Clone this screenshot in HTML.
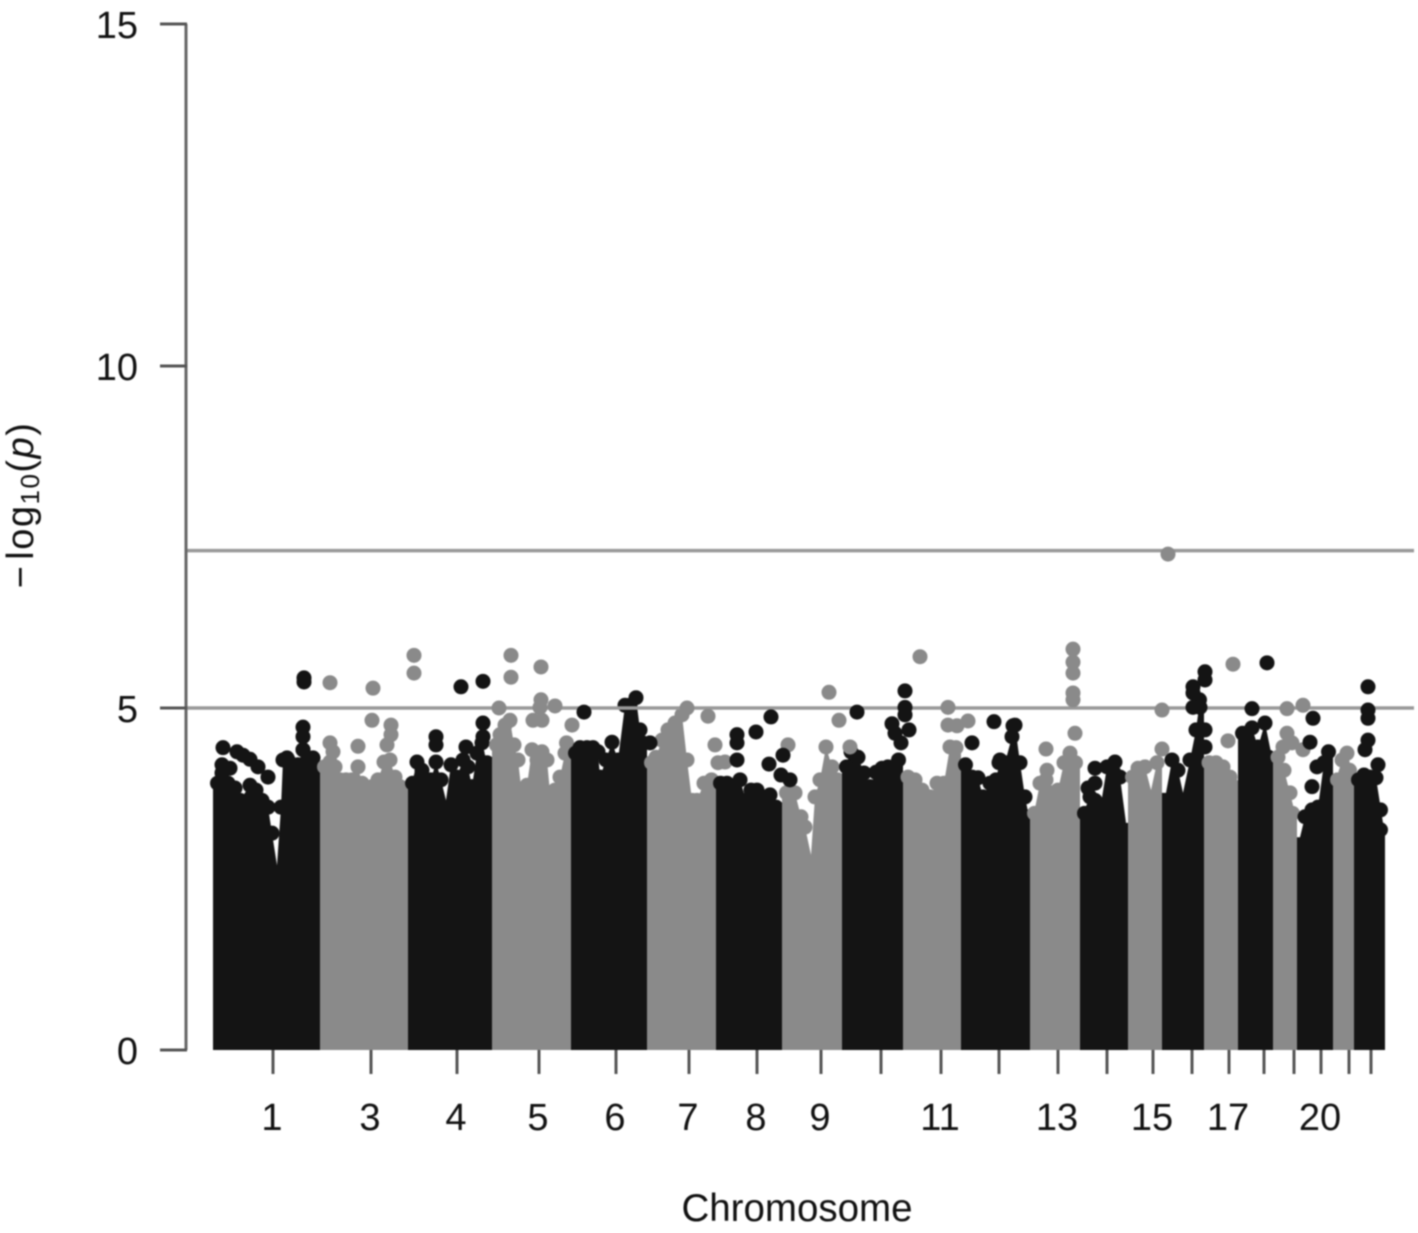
<!DOCTYPE html>
<html lang="en">
<head>
<meta charset="utf-8">
<title>Manhattan plot</title>
<style>
html,body{margin:0;padding:0;background:#fff;}
svg{display:block;filter:blur(0.8px);}
text{font-family:"Liberation Sans",sans-serif;fill:#111;}
</style>
</head>
<body>
<svg id="plot" xmlns="http://www.w3.org/2000/svg" width="1418" height="1233" viewBox="0 0 1418 1233">
  <rect width="1418" height="1233" fill="#fff"/>
  <g id="body-layer"></g>
  <g id="line-layer"></g>
  <g id="point-layer"></g>
  <g id="axis-layer"></g>
  <text x="797" y="1221" font-size="38.5" text-anchor="middle">Chromosome</text>
  <text transform="translate(33,505) rotate(-90)" font-size="38" letter-spacing="1.5" text-anchor="middle">−<tspan dx="5">log</tspan><tspan font-size="26" dy="6">10</tspan><tspan dy="-6">(</tspan><tspan font-style="italic">p</tspan><tspan>)</tspan></text>
</svg>
<script>
// Chromosome layout on a cumulative genome coordinate
const chromosomes = ["1","3","4","5","6","7","8","9","10","11","12","13","14","15","16","17","18","19","20","21","22"];
const chromEnds = [107,195,279,358,434,503,569,629,690,748,817,867,915,949,991,1025,1060,1084,1120,1141,1172];
const tickPositions = [60,158,244,326,403,476,544,608,668,728,786,845,894,940,979,1016,1051,1081,1108,1136,1158];
const tickLabels = ["1","3","4","5","6","7","8","9","","11","","13","","15","","17","","","20","",""];
const yTicks = [0,5,10,15];
const thresholds = [5,7.3];

// Upper envelope of the dense SNP cloud
const skylinePos = [2,9,15,22,27,37,43,49,55,59,64,68,70,75,80,85,90,95,100,105,
110,117,122,127,133,139,145,149,154,159,165,171,177,182,187,193,
199,204,209,214,218,223,228,233,238,244,250,255,259,264,269,274,277,
282,287,292,297,301,305,309,314,319,324,329,334,338,342,347,352,356,
361,367,374,380,385,387,393,399,405,412,417,423,427,432,
437,443,449,455,462,469,474,479,484,491,499,
507,514,520,527,533,538,544,550,557,563,568,
572,577,582,588,592,598,602,607,613,619,625,
632,638,645,651,657,663,669,675,681,687,
695,702,709,717,724,731,737,743,
752,759,765,770,777,783,787,792,799,802,807,812,816,
821,827,833,839,845,851,857,863,
870,877,882,887,894,901,907,913,
919,925,932,938,944,
953,959,965,970,977,983,987,
996,1003,1010,1017,1023,
1029,1039,1045,1052,1059,
1065,1071,1077,1082,
1087,1092,1099,1105,1111,1117,
1123,1129,1134,1139,
1145,1151,1157,1163,1168,1171];
const skylineVal = [3.90,4.05,3.90,3.83,3.65,3.87,3.80,3.65,3.55,3.17,2.70,3.55,4.24,4.24,4.09,4.17,4.39,4.24,4.27,4.09,
4.14,4.21,4.14,3.95,3.95,3.95,4.14,3.90,3.83,3.85,3.95,4.21,4.24,3.99,3.85,3.77,
3.90,4.21,4.09,3.85,3.95,4.21,3.95,3.65,4.17,3.99,4.24,4.14,3.85,4.34,4.49,4.20,4.09,
4.46,4.61,4.75,4.82,4.46,4.24,3.73,3.87,4.39,4.24,4.36,4.24,3.61,3.80,3.99,4.34,4.49,
4.34,4.42,4.42,4.42,4.36,3.99,4.24,4.50,4.24,5.04,5.04,5.15,4.68,4.49,
4.20,4.28,4.53,4.68,4.78,4.90,4.24,3.65,3.65,3.90,3.95,
3.90,3.90,3.85,3.95,3.65,3.80,3.80,3.70,3.73,3.55,3.46,
3.76,3.80,3.76,3.41,3.26,2.85,3.70,3.95,4.43,4.14,3.95,
4.14,4.36,4.28,4.05,3.85,4.06,4.12,4.14,4.14,4.24,
3.99,3.95,3.80,3.70,3.90,3.90,4.43,4.42,
4.17,3.99,3.98,3.70,3.90,3.95,4.24,4.20,4.58,4.75,4.20,3.70,3.41,
3.46,3.90,3.95,3.76,3.80,4.20,4.34,4.20,
3.46,3.70,3.65,3.51,4.14,4.05,3.99,3.32,
3.99,4.12,4.14,3.80,4.20,
3.76,4.24,4.09,3.76,4.24,4.68,5.12,
4.20,4.20,4.14,3.99,3.85,
4.63,4.71,4.43,4.78,4.28,
4.28,4.09,3.76,3.46,
3.11,3.41,3.51,3.55,4.20,4.36,
3.95,4.24,4.34,4.09,
3.95,4.02,3.99,3.98,3.51,3.22];

// Isolated peak SNPs, chromosomes in black
const blackPos = [10,9,17,24,30,37,45,55,91,91,90,90,90,74,248,270,223,223,270,270,253,371,437,558,543,524,524,524,556,570,568,577,644,692,692,692,696,679,682,688,759,781,800,786,882,882,875,902,992,992,980,980,980,987,992,992,1054,1039,1100,1097,1104,1099,1155,1155,1155,1155,1152,1165];
const blackVal = [4.42,4.17,4.12,4.36,4.31,4.25,4.14,3.99,5.44,5.38,4.72,4.58,4.39,4.27,5.31,5.39,4.58,4.46,4.78,4.58,4.43,4.94,4.49,4.87,4.65,4.61,4.49,4.24,4.18,4.31,4.02,3.95,4.94,5.25,5.01,4.90,4.68,4.77,4.63,4.49,4.49,4.80,4.74,4.20,4.12,3.90,3.83,4.21,5.53,5.41,5.31,5.22,5.01,5.01,4.68,4.43,5.66,4.99,4.85,4.50,4.14,3.85,5.31,4.97,4.85,4.53,4.39,4.17];

// Isolated peak SNPs, chromosomes in grey
const grayPos = [117,160,201,201,159,178,178,174,117,120,145,298,298,328,286,328,342,327,320,329,359,495,502,505,512,474,575,616,626,637,707,735,735,744,755,860,860,860,860,860,862,833,834,955,949,949,1020,1015,1074,1090,1074,1079,1070,1090];
const grayVal = [5.37,5.29,5.77,5.51,4.82,4.75,4.61,4.46,4.49,4.36,4.44,5.77,5.45,5.60,5.00,5.12,5.03,5.01,4.82,4.82,4.75,4.88,4.46,4.20,4.21,5.00,4.46,5.23,4.82,4.43,5.75,5.01,4.75,4.74,4.81,5.86,5.67,5.51,5.22,5.12,4.63,4.40,4.09,7.25,4.97,4.40,5.64,4.52,4.99,5.04,4.63,4.49,4.43,4.39];

const BLACK = "#141414", GRAY = "#8a8a8a", POINT_R = 7.5;
const xScale = p => 213 + p;
const yScale = v => 1050 - v * 68.4;
const NS = "http://www.w3.org/2000/svg";
const bodyLayer = document.getElementById("body-layer");
const lineLayer = document.getElementById("line-layer");
const pointLayer = document.getElementById("point-layer");
const axisLayer = document.getElementById("axis-layer");

function make(tag, attrs, parent) {
  const el = document.createElementNS(NS, tag);
  for (const k in attrs) el.setAttribute(k, attrs[k]);
  parent.appendChild(el);
  return el;
}

function drawPoint(pos, val, color, parent) {
  const c = make("circle", {cx: xScale(pos), cy: yScale(val), r: POINT_R, fill: color}, parent);
  
  
}

chromosomes.forEach((name, i) => {
  const start = i === 0 ? 0 : chromEnds[i - 1];
  const end = chromEnds[i];
  const color = i % 2 === 0 ? BLACK : GRAY;
  const idx = skylinePos.map((p, k) => k).filter(k => skylinePos[k] >= start && skylinePos[k] < end);
  let d = "M" + xScale(start) + " " + yScale(0);
  d += "L" + xScale(start) + " " + yScale(skylineVal[idx[0]]);
  idx.forEach(k => { d += "L" + xScale(skylinePos[k]) + " " + yScale(skylineVal[k]); });
  d += "L" + xScale(end) + " " + yScale(skylineVal[idx[idx.length - 1]]);
  d += "L" + xScale(end) + " " + yScale(0) + "Z";
  const body = make("path", {d: d, fill: color}, bodyLayer);
  
  
  idx.forEach(k => {
    // deep notches stay open: no cap on a sharp local minimum of the envelope
    const prev = skylineVal[k - 1], next = skylineVal[k + 1];
    if (prev - skylineVal[k] > 0.3 && next - skylineVal[k] > 0.3) return;
    const cap = Math.max(xScale(start) + POINT_R - 3, Math.min(xScale(end) - POINT_R + 3, xScale(skylinePos[k])));
    const c = make("circle", {cx: cap, cy: yScale(skylineVal[k]), r: POINT_R, fill: color}, bodyLayer);
    
    
  });
});

thresholds.forEach(t => {
  const l = make("line", {x1: 187, x2: 1414, y1: yScale(t), y2: yScale(t), stroke: "#999", "stroke-width": 3.5}, lineLayer);
  
  
});

grayPos.forEach((p, i) => drawPoint(p, grayVal[i], GRAY, pointLayer));
blackPos.forEach((p, i) => drawPoint(p, blackVal[i], BLACK, pointLayer));

const yAxis = make("line", {x1: 186, x2: 186, y1: yScale(15), y2: yScale(0), stroke: "#666", "stroke-width": 3}, axisLayer);



yTicks.forEach(v => {
  const t = make("line", {x1: 160, x2: 187, y1: yScale(v), y2: yScale(v), stroke: "#555", "stroke-width": 3}, axisLayer);
  
  
  const lab = make("text", {x: 138, y: yScale(v) + 14, "font-size": 38, "text-anchor": "end"}, axisLayer);
  lab.textContent = String(v);
  
  
});

tickPositions.forEach((p, i) => {
  const t = make("line", {x1: xScale(p), x2: xScale(p), y1: 1050, y2: 1074, stroke: "#555", "stroke-width": 3}, axisLayer);
  
  
  if (tickLabels[i]) {
    const lab = make("text", {x: xScale(p) - 1, y: 1130, "font-size": 38, "text-anchor": "middle"}, axisLayer);
    lab.textContent = tickLabels[i];
    
    
  }
});
</script>
</body>
</html>
